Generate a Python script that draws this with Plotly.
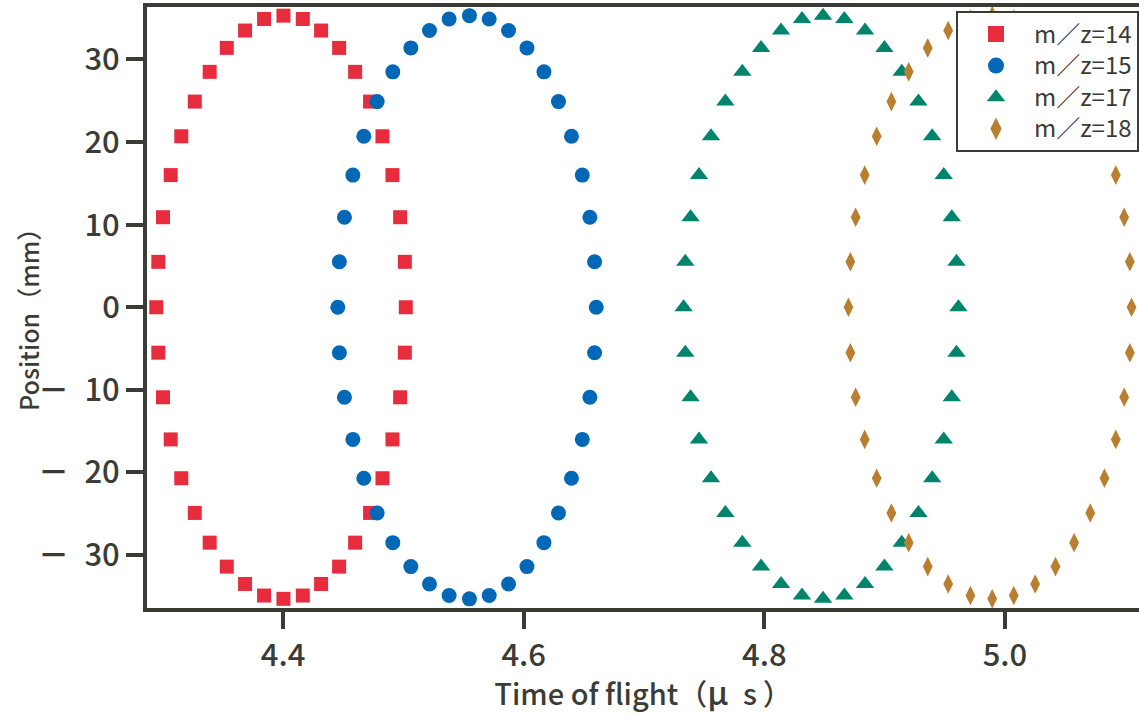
import plotly.graph_objects as go

# Position (mm) of each sample point, shared by all four series
position_mm = [0, 5.5, 10.9, 16.0, 20.7, 24.9, 28.5, 31.4, 33.5, 34.9,
               35.3,
               34.9, 33.5, 31.4, 28.5, 24.9, 20.7, 16.0, 10.9, 5.5,
               0,
               -5.5, -10.9, -16.0, -20.7, -24.9, -28.5, -31.4, -33.5, -34.9,
               -35.3,
               -34.9, -33.5, -31.4, -28.5, -24.9, -20.7, -16.0, -10.9, -5.5]

# Time of flight (microseconds) for each m/z
tof_mz14 = [4.2946, 4.2963, 4.3002, 4.3066, 4.3154, 4.3266, 4.3390, 4.3532, 4.3684, 4.3842,
            4.4003,
            4.4164, 4.4316, 4.4466, 4.4599, 4.4723, 4.4826, 4.4909, 4.4973, 4.5012,
            4.5020,
            4.5012, 4.4973, 4.4909, 4.4826, 4.4723, 4.4599, 4.4466, 4.4316, 4.4164,
            4.4003,
            4.3842, 4.3684, 4.3532, 4.3390, 4.3266, 4.3154, 4.3066, 4.3002, 4.2963]

tof_mz15 = [4.4455, 4.4468, 4.4510, 4.4580, 4.4671, 4.4782, 4.4912, 4.5062, 4.5217, 4.5380,
            4.5549,
            4.5713, 4.5874, 4.6027, 4.6168, 4.6289, 4.6397, 4.6487, 4.6550, 4.6589,
            4.6603,
            4.6589, 4.6550, 4.6487, 4.6397, 4.6289, 4.6168, 4.6027, 4.5874, 4.5713,
            4.5549,
            4.5380, 4.5217, 4.5062, 4.4912, 4.4782, 4.4671, 4.4580, 4.4510, 4.4468]

tof_mz17 = [4.7329, 4.7343, 4.7387, 4.7457, 4.7557, 4.7676, 4.7817, 4.7973, 4.8139, 4.8313,
            4.8488,
            4.8665, 4.8837, 4.8998, 4.9142, 4.9281, 4.9395, 4.9491, 4.9558, 4.9597,
            4.9613,
            4.9597, 4.9558, 4.9491, 4.9395, 4.9281, 4.9142, 4.8998, 4.8837, 4.8665,
            4.8488,
            4.8313, 4.8139, 4.7973, 4.7817, 4.7676, 4.7557, 4.7457, 4.7387, 4.7343]

tof_mz18 = [4.8699, 4.8715, 4.8759, 4.8834, 4.8934, 4.9056, 4.9200, 4.9358, 4.9528, 4.9713,
            4.9894,
            5.0073, 5.0251, 5.0420, 5.0575, 5.0709, 5.0827, 5.0921, 5.0991, 5.1038,
            5.1052,
            5.1038, 5.0991, 5.0921, 5.0827, 5.0709, 5.0575, 5.0420, 5.0251, 5.0073,
            4.9894,
            4.9713, 4.9528, 4.9358, 4.9200, 4.9056, 4.8934, 4.8834, 4.8759, 4.8715]

series_names = ["m／z=14", "m／z=15", "m／z=17", "m／z=18"]
x_ticks = [4.4, 4.6, 4.8, 5.0]
x_tick_labels = ["4.4", "4.6", "4.8", "5.0"]
y_ticks = [-30, -20, -10, 0, 10, 20, 30]
y_tick_labels = ["<b>－</b>\u200230", "<b>－</b>\u200220", "<b>－</b>\u200210", "0", "10", "20", "30"]

series_x = [tof_mz14, tof_mz15, tof_mz17, tof_mz18]
symbols = ["square", "circle", "triangle-up", "diamond-tall"]
sizes = [14, 15, 16, 14]
colors = ["#e72d3d", "#0068b7", "#00846b", "#b97f30"]

INK = "#3c3c37"
FONT = "Noto Sans CJK JP"

fig = go.Figure()
for name, xs, sym, sz, col in zip(series_names, series_x, symbols, sizes, colors):
    fig.add_trace(go.Scatter(
        x=xs, y=position_mm, mode="markers", name=name, showlegend=False,
        marker=dict(symbol=sym, size=sz, color=col, line=dict(width=0)),
    ))
# legend entries (plotly caps legend symbols at 16 px)
for name, sym, col in zip(series_names, symbols, colors):
    fig.add_trace(go.Scatter(
        x=[None], y=[None], mode="markers",
        name="<span style='font-size:24px'>" + name + "</span>", showlegend=True,
        marker=dict(symbol=sym, size=16, color=col, line=dict(width=0)),
    ))

fig.update_layout(
    width=1139, height=715,
    margin=dict(l=147, r=0, t=7, b=107),
    paper_bgcolor="white", plot_bgcolor="white",
    font=dict(family=FONT, color=INK),
    showlegend=True,
    legend=dict(
        x=1, xanchor="right", y=0.993, yanchor="top",
        bgcolor="white", bordercolor=INK, borderwidth=2,
        font=dict(family=FONT, size=22, color=INK),
        itemwidth=66, tracegroupgap=0,
    ),
    annotations=[dict(
        text="Position（mm）", textangle=-90,
        xref="paper", yref="paper", x=-0.1205, y=0.49,
        xanchor="center", yanchor="middle", showarrow=False,
        font=dict(family=FONT, size=25, color=INK, weight=500),
    )],
)

fig.update_xaxes(
    range=[4.2869, 5.1114],
    tickvals=x_ticks, ticktext=x_tick_labels,
    ticks="outside", ticklen=17, tickwidth=4, tickcolor=INK,
    showline=True, linewidth=4, linecolor=INK, mirror=True,
    showgrid=False, zeroline=False,
    tickfont=dict(family=FONT, size=31, color=INK, weight=500),
    title=dict(text="Time of flight（<span style='font-size:33px'>μ</span>\u2002s\u2009）",
               font=dict(family=FONT, size=29, color=INK, weight=500), standoff=6),
)
fig.update_yaxes(
    range=[-36.41, 36.35],
    tickvals=y_ticks, ticktext=y_tick_labels,
    ticks="outside", ticklen=17, tickwidth=4, tickcolor=INK,
    showline=True, linewidth=4, linecolor=INK, mirror=False,
    showgrid=False, zeroline=False,
    tickfont=dict(family=FONT, size=31, color=INK, weight=500),
)

fig.write_html("out.html", config={"displayModeBar": False},
               post_script="document.body.style.margin='0';")
